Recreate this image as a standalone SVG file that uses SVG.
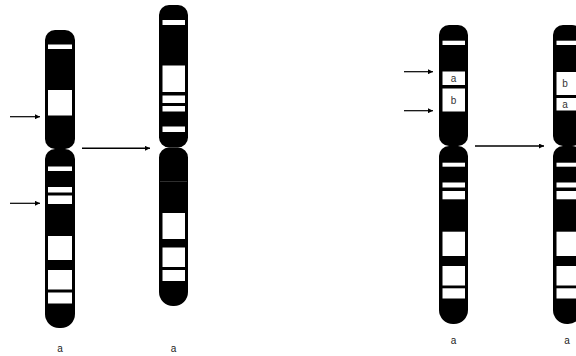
<svg xmlns="http://www.w3.org/2000/svg" width="576" height="356" viewBox="0 0 576 356">
  <style>
    .arm { fill: #000; }
    .band { fill: #fff; }
    .seam { stroke: #3a3a3a; stroke-width: 0.8; }
    .lbl { font-family: "Liberation Sans", Arial, sans-serif; font-size: 10px; fill: #222; text-anchor: middle; }
    .seg { font-family: "Liberation Sans", Arial, sans-serif; font-size: 10px; fill: #333; text-anchor: middle; }
    .arrow { stroke: #000; fill: none; }
  </style>
  <defs>
    <marker id="head" viewBox="0 0 6 6" refX="6" refY="3" markerWidth="6" markerHeight="5" markerUnits="userSpaceOnUse" orient="auto">
      <path d="M0,0 L6,3 L0,6 Z" fill="#000"/>
    </marker>
  </defs>
  <rect width="576" height="356" fill="#fff"/>

  <!-- chromosome 1: normal -->
  <g id="chr1">
    <path class="arm" d="M45,40 A10,10 0 0 1 55,30 H65 A10,10 0 0 1 75,40 V139 A10,10 0 0 1 65,149 H55 A10,10 0 0 1 45,139 Z"/>
    <path class="arm" d="M45,159 A10,10 0 0 1 55,149 H65 A10,10 0 0 1 75,159 V314 A14,14 0 0 1 61,328 H59 A14,14 0 0 1 45,314 Z"/>
    <rect class="band" x="48" y="44.5" width="24" height="4.5"/>
    <rect class="band" x="48" y="90" width="24" height="25.5"/>
    <rect class="band" x="48" y="166.5" width="24" height="4.5"/>
    <rect class="band" x="48" y="187" width="24" height="5.5"/>
    <rect class="band" x="48" y="195.5" width="24" height="8.5"/>
    <rect class="band" x="48" y="236" width="24" height="24"/>
    <rect class="band" x="48" y="270" width="24" height="19.5"/>
    <rect class="band" x="48" y="292.5" width="24" height="11"/>
    <text class="lbl" x="60" y="352">a</text>
  </g>

  <!-- chromosome 2: rearranged -->
  <g id="chr2">
    <path class="arm" d="M159,15 A10,10 0 0 1 169,5 H178 A10,10 0 0 1 188,15 V137.5 A10,10 0 0 1 178,147.5 H169 A10,10 0 0 1 159,137.5 Z"/>
    <path class="arm" d="M159,157.5 A10,10 0 0 1 169,147.5 H178 A10,10 0 0 1 188,157.5 V292 A14,14 0 0 1 174,306 H173 A14,14 0 0 1 159,292 Z"/>
    <rect class="band" x="162.5" y="20" width="22.5" height="5"/>
    <rect class="band" x="162.5" y="65.5" width="22.5" height="26.5"/>
    <rect class="band" x="162.5" y="95.5" width="22.5" height="7.5"/>
    <rect class="band" x="162.5" y="106" width="22.5" height="5.5"/>
    <rect class="band" x="162.5" y="126.5" width="22.5" height="5.5"/>
    <line class="seam" x1="160" y1="181.5" x2="187" y2="181.5"/>
    <rect class="band" x="162.5" y="213" width="22.5" height="26"/>
    <rect class="band" x="162.5" y="247.5" width="22.5" height="19.5"/>
    <rect class="band" x="162.5" y="270" width="22.5" height="11"/>
    <text class="lbl" x="173.5" y="352">a</text>
  </g>

  <!-- chromosome 3: segments a, b -->
  <g id="chr3">
    <path class="arm" d="M439,35 A10,10 0 0 1 449,25 H458 A10,10 0 0 1 468,35 V136 A10,10 0 0 1 458,146 H449 A10,10 0 0 1 439,136 Z"/>
    <path class="arm" d="M439,156 A10,10 0 0 1 449,146 H458 A10,10 0 0 1 468,156 V310 A14,14 0 0 1 454,324 H453 A14,14 0 0 1 439,310 Z"/>
    <rect class="band" x="442.5" y="40.7" width="22.5" height="4.3"/>
    <rect class="band" x="442.5" y="71.5" width="22.5" height="13.5"/>
    <rect class="band" x="442.5" y="88.5" width="22.5" height="23"/>
    <text class="seg" x="453.5" y="81.5">a</text>
    <text class="seg" x="453.5" y="103.5">b</text>
    <rect class="band" x="442.5" y="162.7" width="22.5" height="4"/>
    <rect class="band" x="442.5" y="182.5" width="22.5" height="5"/>
    <rect class="band" x="442.5" y="191" width="22.5" height="8.3"/>
    <rect class="band" x="442.5" y="231.7" width="22.5" height="24.3"/>
    <rect class="band" x="442.5" y="266" width="22.5" height="19.5"/>
    <rect class="band" x="442.5" y="288.3" width="22.5" height="10.2"/>
    <text class="lbl" x="453.5" y="344">a</text>
  </g>

  <!-- chromosome 4: segments b, a inverted -->
  <g id="chr4">
    <path class="arm" d="M553,35 A10,10 0 0 1 563,25 H572 A10,10 0 0 1 582,35 V136 A10,10 0 0 1 572,146 H563 A10,10 0 0 1 553,136 Z"/>
    <path class="arm" d="M553,156 A10,10 0 0 1 563,146 H572 A10,10 0 0 1 582,156 V310 A14,14 0 0 1 568,324 H567 A14,14 0 0 1 553,310 Z"/>
    <rect class="band" x="556.5" y="40.7" width="22.5" height="4.3"/>
    <rect class="band" x="556.5" y="72" width="22.5" height="23"/>
    <rect class="band" x="556.5" y="98" width="22.5" height="12.5"/>
    <text class="seg" x="565" y="87">b</text>
    <text class="seg" x="565" y="107.5">a</text>
    <rect class="band" x="556.5" y="162.7" width="22.5" height="4"/>
    <rect class="band" x="556.5" y="182.5" width="22.5" height="5"/>
    <rect class="band" x="556.5" y="191" width="22.5" height="8.3"/>
    <rect class="band" x="556.5" y="231.7" width="22.5" height="24.3"/>
    <rect class="band" x="556.5" y="266" width="22.5" height="19.5"/>
    <rect class="band" x="556.5" y="288.3" width="22.5" height="10.2"/>
    <text class="lbl" x="567" y="344">a</text>
  </g>

  <!-- arrows -->
  <g id="connectors">
    <line class="arrow" x1="10" y1="116.7" x2="40" y2="116.7" stroke-width="1.2" marker-end="url(#head)"/>
    <line class="arrow" x1="10" y1="203.3" x2="40" y2="203.3" stroke-width="1.2" marker-end="url(#head)"/>
    <line class="arrow" x1="82" y1="148.3" x2="150" y2="148.3" stroke-width="1.6" marker-end="url(#head)"/>
    <line class="arrow" x1="404" y1="71.7" x2="433" y2="71.7" stroke-width="1.2" marker-end="url(#head)"/>
    <line class="arrow" x1="404" y1="110.7" x2="433" y2="110.7" stroke-width="1.2" marker-end="url(#head)"/>
    <line class="arrow" x1="475" y1="146" x2="544" y2="146" stroke-width="1.6" marker-end="url(#head)"/>
  </g>
</svg>
